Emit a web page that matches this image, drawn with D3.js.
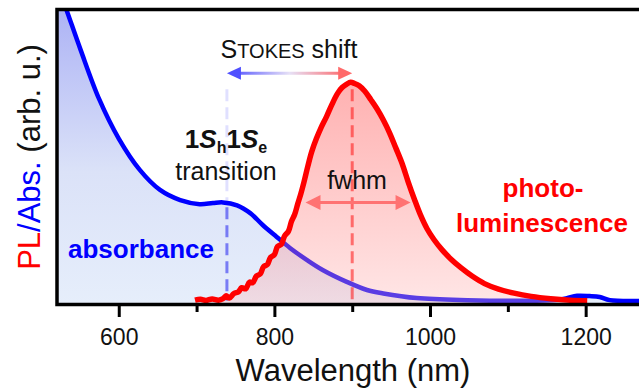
<!DOCTYPE html>
<html>
<head>
<meta charset="utf-8">
<script src="https://cdn.jsdelivr.net/npm/d3@7"></script>
<style>
  body { margin: 0; background: #fff; }
  svg { display: block; }
  text { font-family: "Liberation Sans", Arial, sans-serif; }
</style>
</head>
<body>
<svg id="chart" width="639" height="388"></svg>
<script>
// absorbance spectrum
const absWavelength = [510, 520, 533, 551, 575, 600, 627, 653, 679, 704, 721, 734, 752, 769, 785, 803, 820, 842, 862, 893, 919, 940, 983, 1048, 1132, 1165, 1176, 1189, 1205, 1218, 1231, 1270, 1300];
const absValues     = [118, 110, 100.3, 86.6, 69.5, 56, 45.2, 38.3, 34.8, 33.4, 33.8, 34.0, 33.0, 30.3, 26.2, 22.1, 18.3, 14.1, 10.7, 6.6, 3.8, 2.6, 1.0, 0.3, 0.1, 0.4, 1.0, 1.8, 1.7, 1.4, 0.3, 0, 0];

// photoluminescence spectrum
const plWavelength = [698, 705, 712, 720, 728, 734, 738, 742, 748, 754, 758, 763, 768, 772, 777, 782, 786, 791, 795, 800, 804, 809, 813, 818, 822, 826, 830, 834, 838, 843, 848, 854, 860, 867, 874, 881, 887, 893, 898, 903, 909, 916, 924, 932, 940, 948, 956, 964, 972, 980, 988, 996, 1005, 1015, 1027, 1040, 1054, 1070, 1088, 1108, 1130, 1155, 1180, 1202];
const plValues     = [0.3, 0.6, 0.2, 0.7, 0.3, 0.8, 1.8, 1.0, 2.6, 3.2, 4.6, 4.2, 6.5, 6.3, 8.6, 9.4, 11.8, 12.6, 15.0, 16.0, 18.8, 19.6, 22.4, 24.0, 27.5, 29.8, 33.5, 37.0, 41.0, 46.5, 51.5, 56.0, 59.8, 63.6, 67.8, 71.5, 73.6, 74.8, 75.4, 75.0, 74.2, 72.4, 69.4, 66.2, 62.4, 58.0, 52.8, 47.5, 41.0, 35.0, 29.5, 25.0, 21.2, 17.8, 14.4, 11.4, 8.6, 6.0, 4.1, 2.7, 1.6, 0.8, 0.3, 0.1];

const majorTicks = [600, 800, 1000, 1200];
const minorTicks = [700, 900, 1100];

// annotation positions
const transitionWl = 739;
const peakWl = 900;
const stokesLevel = 78.5;
const dashTop = 73;
const fwhmLo = 840, fwhmHi = 975, fwhmLevel = 34;

const svg = d3.select("#chart");
const plotLeft = 57, plotTop = 9.5, plotBottom = 304.5;

const x = d3.scaleLinear().domain([520, 1290]).range([56.5, 655.7]);
const y = d3.scaleLinear().domain([0, 100]).range([301, 11]);

const abs = absWavelength.map((w, i) => ({w: w, v: absValues[i]}));
const pl = plWavelength.map((w, i) => ({w: w, v: plValues[i]}));

const defs = svg.append("defs");
defs.append("clipPath").attr("id", "plotclip")
  .append("rect").attr("x", plotLeft).attr("y", plotTop).attr("width", 640).attr("height", plotBottom - plotTop);

function vGrad(id, y1, y2, stops) {
  let g = defs.append("linearGradient").attr("id", id)
    .attr("gradientUnits", "userSpaceOnUse")
    .attr("x1", 0).attr("x2", 0).attr("y1", y1).attr("y2", y2);
  stops.forEach(s => g.append("stop").attr("offset", s[0]).attr("stop-color", s[1]));
}
vGrad("absfill", plotTop, plotBottom, [[0, "#adb3f5"], [0.55, "#dbe2f8"], [1, "#e6eefb"]]);
vGrad("plfill", y(75), plotBottom, [[0, "#ff2020"], [1, "#ffb8b8"]]);

let sg = defs.append("linearGradient").attr("id", "stokes")
  .attr("gradientUnits", "userSpaceOnUse")
  .attr("x1", x(transitionWl)).attr("x2", x(peakWl)).attr("y1", 0).attr("y2", 0);
sg.append("stop").attr("offset", 0).attr("stop-color", "#4848ff");
sg.append("stop").attr("offset", 0.5).attr("stop-color", "#e6e0f6");
sg.append("stop").attr("offset", 1).attr("stop-color", "#ff5c5c");

const plot = svg.append("g").attr("clip-path", "url(#plotclip)");

const curve = d3.curveCatmullRom.alpha(0.5);
const area = d3.area().x(d => x(d.w)).y0(y(-1.2)).y1(d => y(d.v)).curve(curve);
const line = d3.line().x(d => x(d.w)).y(d => y(d.v)).curve(curve);

plot.append("path").datum(abs).attr("d", area).attr("fill", "url(#absfill)");
plot.append("path").datum(abs).attr("d", line)
  .attr("fill", "none").attr("stroke", "#0000ff").attr("stroke-width", 4.5);

// blue dashed line for the 1Sh1Se transition
const absAt = w => d3.scaleLinear().domain(absWavelength).range(absValues)(w);
plot.append("line")
  .attr("x1", x(transitionWl)).attr("x2", x(transitionWl))
  .attr("y1", y(dashTop)).attr("y2", y(absAt(transitionWl)))
  .attr("stroke", "#0000ff").attr("stroke-opacity", 0.12)
  .attr("stroke-width", 3).attr("stroke-dasharray", "12,6");
plot.append("line")
  .attr("x1", x(transitionWl)).attr("x2", x(transitionWl))
  .attr("y1", y(absAt(transitionWl)) + 4).attr("y2", y(0))
  .attr("stroke", "#2020f0").attr("stroke-opacity", 0.55)
  .attr("stroke-width", 3).attr("stroke-dasharray", "12,6");

plot.append("path").datum(pl).attr("d", area)
  .attr("fill", "url(#plfill)").attr("fill-opacity", 0.35);

// red dashed line at the PL peak
plot.append("line")
  .attr("x1", x(peakWl)).attr("x2", x(peakWl))
  .attr("y1", y(dashTop)).attr("y2", y(0))
  .attr("stroke", "#ff0000").attr("stroke-opacity", 0.5)
  .attr("stroke-width", 3).attr("stroke-dasharray", "12,6");

plot.append("path").datum(pl).attr("d", line)
  .attr("fill", "none").attr("stroke", "#ff0000").attr("stroke-width", 5.5)
  .attr("stroke-linejoin", "round");

// double arrows
function doubleArrow(x1, x2, yy, color, head, half, c1, c2) {
  svg.append("line").attr("x1", x1 + head - 2).attr("x2", x2 - head + 2)
    .attr("y1", yy).attr("y2", yy).attr("stroke", color).attr("stroke-width", 3);
  svg.append("path").attr("d", `M${x1},${yy}L${x1 + head},${yy - half}L${x1 + head},${yy + half}Z`).attr("fill", c1 || color);
  svg.append("path").attr("d", `M${x2},${yy}L${x2 - head},${yy - half}L${x2 - head},${yy + half}Z`).attr("fill", c2 || color);
}
doubleArrow(x(transitionWl), x(peakWl), y(stokesLevel), "url(#stokes)", 14, 6.5, "#5050ff", "#ff6a6a");
doubleArrow(x(fwhmLo), x(fwhmHi), y(fwhmLevel), "#ff7272", 15, 7.5);

// frame
svg.append("rect").attr("x", plotLeft).attr("y", plotTop)
  .attr("width", 655.7 - plotLeft).attr("height", plotBottom - plotTop)
  .attr("fill", "none").attr("stroke", "#000").attr("stroke-width", 3.5);

// x axis
const xAxis = svg.append("g").attr("transform", `translate(0,${plotBottom + 1.5})`)
  .call(d3.axisBottom(x).tickValues(majorTicks).tickFormat(d3.format("d"))
    .tickSize(11).tickSizeOuter(0).tickPadding(12));
xAxis.select(".domain").remove();
xAxis.selectAll(".tick line").attr("stroke", "#000").attr("stroke-width", 3);
xAxis.selectAll(".tick text").attr("font-size", 23).attr("fill", "#111")
  .style("font-family", '"Liberation Sans", Arial, sans-serif');

const xMinor = svg.append("g").attr("transform", `translate(0,${plotBottom + 1.5})`)
  .call(d3.axisBottom(x).tickValues(minorTicks).tickSize(6).tickSizeOuter(0).tickFormat(""));
xMinor.select(".domain").remove();
xMinor.selectAll(".tick line").attr("stroke", "#000").attr("stroke-width", 3);

svg.append("text").attr("x", 353).attr("y", 381).attr("text-anchor", "middle")
  .attr("font-size", 31).attr("fill", "#111").text("Wavelength (nm)");

// y label
const yl = svg.append("text").attr("transform", "translate(40,157) rotate(-90)")
  .attr("text-anchor", "middle").attr("font-size", 31);
yl.append("tspan").attr("fill", "#ff0000").text("PL");
yl.append("tspan").attr("fill", "#0000ff").text("/Abs.");
yl.append("tspan").attr("fill", "#111").text(" (arb. u.)");

// annotations
const st = svg.append("text").attr("x", 289).attr("y", 58).attr("text-anchor", "middle")
  .attr("font-size", 25).attr("fill", "#111");
st.append("tspan").text("S");
st.append("tspan").attr("font-size", 20).text("TOKES");
st.append("tspan").text(" shift");

const tr = svg.append("text").attr("x", 226).attr("y", 148).attr("text-anchor", "middle")
  .attr("font-size", 26).attr("font-weight", "bold").attr("fill", "#111");
tr.append("tspan").text("1");
tr.append("tspan").attr("font-style", "italic").text("S");
tr.append("tspan").attr("font-size", 16).attr("dy", 5).text("h");
tr.append("tspan").attr("dy", -5).text("1");
tr.append("tspan").attr("font-style", "italic").text("S");
tr.append("tspan").attr("font-size", 16).attr("dy", 5).text("e");

svg.append("text").attr("x", 226).attr("y", 180).attr("text-anchor", "middle")
  .attr("font-size", 25).attr("fill", "#111").text("transition");

svg.append("text").attr("x", 357).attr("y", 189).attr("text-anchor", "middle")
  .attr("font-size", 25).attr("fill", "#111").text("fwhm");

svg.append("text").attr("x", 141).attr("y", 258).attr("text-anchor", "middle")
  .attr("font-size", 26).attr("font-weight", "bold").attr("fill", "#0000ff").text("absorbance");

svg.append("text").attr("x", 543).attr("y", 197).attr("text-anchor", "middle")
  .attr("font-size", 26).attr("font-weight", "bold").attr("fill", "#ff0000").text("photo-");
svg.append("text").attr("x", 542).attr("y", 232).attr("text-anchor", "middle")
  .attr("font-size", 26).attr("font-weight", "bold").attr("fill", "#ff0000").text("luminescence");
</script>
</body>
</html>
